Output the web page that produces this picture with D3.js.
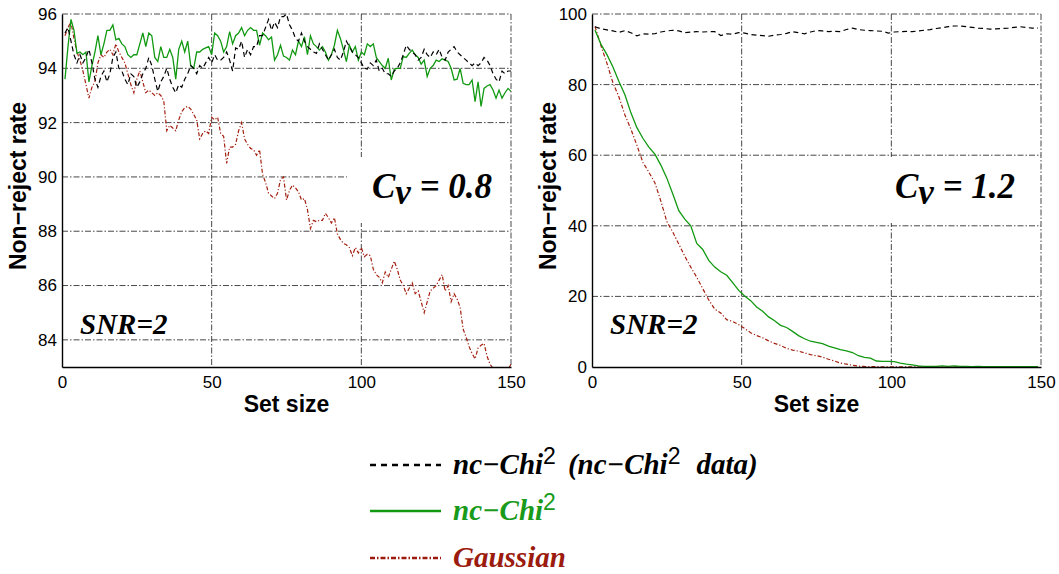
<!DOCTYPE html>
<html><head><meta charset="utf-8">
<script src="https://cdn.jsdelivr.net/npm/d3@7"></script>
<style>
body{margin:0;background:#fff;}
svg{display:block;}
</style></head>
<body>
<svg id="chart" width="1059" height="574"></svg>
<script>
// ---------------- DATA ----------------
// Left panel (Cv = 0.8): set size 1..150
const leftX = d3.range(1, 151);
const leftChiData = [95.3,95.5,95.0,94.5,94.2,94.5,94.2,94.4,94.7,94.2,93.6,93.3,93.7,93.9,93.5,93.8,94.4,94.6,94.0,93.9,
93.6,93.4,93.8,93.7,93.3,93.5,93.8,94.0,94.4,94.1,93.6,93.15,93.5,93.7,94.0,93.6,93.3,93.1,93.4,93.3,
93.6,93.8,94.1,94.0,93.8,94.1,94.0,94.2,94.4,94.2,94.5,94.3,94.3,94.4,94.6,94.3,93.9,94.75,94.7,95.0,
94.4,94.7,94.5,94.8,94.8,95.2,95.2,95.5,95.8,95.4,95.7,95.5,95.9,95.9,96.0,95.6,95.4,95.1,95.0,95.3,
95.0,94.8,94.7,94.6,94.55,94.9,94.7,94.5,94.3,94.5,94.7,94.4,94.3,94.6,95.0,94.8,94.6,94.5,94.4,94.2,
94.0,93.97,94.2,94.1,94.3,93.9,94.0,93.8,93.8,93.7,93.9,94.0,94.2,94.5,94.85,94.7,94.6,94.5,94.3,94.4,
94.7,94.5,94.4,94.6,94.5,94.7,94.4,94.3,94.6,94.7,94.8,94.6,94.5,94.4,94.3,94.2,94.1,94.2,94.1,94.2,
94.4,94.3,94.1,93.8,93.6,93.5,93.9,93.8,93.9,93.9];
const leftChi = [93.6,94.8,95.8,95.4,94.55,94.6,94.5,94.6,93.5,94.1,94.6,95.2,94.5,94.9,95.4,95.4,95.6,95.05,95.1,94.9,
94.8,94.5,94.4,94.5,94.5,94.9,95.3,94.8,95.3,95.2,94.4,94.25,94.8,94.4,94.4,94.7,94.4,93.6,94.7,95.0,
94.6,95.0,94.1,94.0,94.6,94.6,94.7,94.75,94.8,94.5,95.3,95.2,95.0,94.6,94.8,95.35,94.9,95.2,95.3,95.5,
95.2,95.4,95.5,95.4,95.4,94.85,95.3,95.2,95.05,95.15,94.3,94.5,94.85,94.45,94.4,94.3,94.67,94.5,95.0,94.8,
95.16,94.5,95.2,94.9,94.8,94.67,94.8,94.6,94.3,94.5,94.85,95.4,95.1,94.7,94.25,94.85,94.6,94.8,94.3,94.6,
94.5,94.9,94.8,94.9,94.4,94.25,94.1,94.0,94.37,93.57,93.97,94.0,94.0,94.43,94.4,94.55,94.67,94.5,94.4,94.15,
94.3,93.7,94.0,94.1,94.3,94.25,94.35,94.3,94.25,94.0,93.57,93.6,94.0,93.45,93.4,93.4,93.57,92.77,93.5,92.6,
93.26,93.35,93.4,93.2,92.9,93.2,92.9,93.1,93.26,93.15];
const leftGauss = [95.2,95.5,95.7,95.1,94.6,94.3,93.9,93.4,92.9,93.3,93.5,94.2,94.5,94.4,94.6,94.7,94.5,94.9,94.6,94.4,
94.2,93.8,93.4,93.1,93.6,93.9,93.5,93.1,93.2,93.1,93.0,93.1,93.0,92.8,91.7,91.9,91.8,91.7,92.1,92.4,
92.55,92.6,92.5,92.3,92.1,91.4,91.6,91.7,91.6,92.2,92.1,92.2,91.6,91.5,90.5,91.1,91.1,91.2,91.7,92.0,
91.4,91.2,91.05,91.0,90.8,91.0,90.1,89.8,89.4,89.3,89.2,89.4,89.9,90.0,89.15,89.5,89.7,89.6,89.45,89.15,
89.2,88.8,88.1,88.4,88.35,88.4,88.4,88.66,88.5,88.3,88.5,87.9,87.7,87.55,87.5,87.4,87.1,87.4,87.2,87.4,
87.06,87.15,87.1,86.6,86.4,86.3,86.1,86.5,86.3,86.6,86.9,86.6,86.2,86.0,85.7,85.9,86.1,85.7,85.8,85.4,
85.0,85.4,85.8,85.9,86.0,86.2,86.4,85.8,86.0,85.4,85.7,85.5,85.2,84.4,84.1,83.75,83.5,83.3,83.7,83.8,
83.87,83.4,83.1,82.95,82.8,82.9,82.8,82.9,82.9,83.1];

// Right panel (Cv = 1.2): set size 1,3,...,149
const rightX = d3.range(1, 150, 2);
const rightChiData = [96.4,95.8,95.5,95.2,94.8,95.3,94.7,93.8,94.4,94.3,94.4,94.9,95.2,95.4,95.2,94.7,94.9,95.0,94.9,95.0,
95.0,93.9,94.4,94.3,94.7,94.6,94.2,94.0,93.9,93.7,94.0,94.2,94.5,95.0,94.7,94.4,94.9,95.3,95.2,95.0,
95.1,95.0,95.6,96.0,95.6,95.4,95.3,95.2,95.1,94.6,94.9,95.0,95.1,95.0,95.2,95.4,95.6,95.9,96.1,96.4,
96.6,96.6,96.4,96.2,96.0,95.9,95.7,95.8,95.9,96.0,96.2,96.4,96.2,96.0,96.0];
const rightChi = [95.5,91.4,88.5,85.0,80.9,77.1,72.0,67.8,64.8,62.3,60.3,57.2,53.5,49.0,44.3,41.9,40.0,35.0,33.3,30.2,
28.3,27.0,26.0,23.9,21.7,20.1,18.8,17.0,15.8,14.2,13.1,11.8,11.2,10.1,8.9,8.0,7.3,7.0,6.6,5.9,
5.4,4.9,4.6,4.1,3.2,2.7,2.5,1.7,1.6,1.6,1.5,1.1,0.8,0.6,0.3,0.2,0.2,0.2,0.3,0.2,
0.3,0.2,0.2,0.1,0.2,0.1,0.1,0.1,0.1,0.1,0.1,0.1,0.1,0.1,0.1];
const rightGauss = [96.5,91.0,86.0,80.5,76.5,71.4,67.4,62.8,58.0,55.2,52.2,47.0,41.2,38.2,34.8,31.4,28.3,25.4,22.2,19.0,
16.4,15.3,13.4,12.9,12.0,10.9,9.7,8.9,8.3,7.4,6.7,6.1,5.3,4.8,4.5,4.0,3.5,3.2,2.8,2.2,
1.7,1.1,0.8,0.5,0.25,0.15,0.1,0.1,0.05,0.05,0.05,0.05,0.05,0.05,0.05,0.05,0.05,0.05,0.05,0.05,
0.05,0.05,0.05,0.05,0.05,0.05,0.05,0.05,0.05,0.05,0.05,0.05,0.05,0.05,0.05];

const xTicks = [0, 50, 100, 150];
const leftYTicks = [84, 86, 88, 90, 92, 94, 96];
const rightYTicks = [0, 20, 40, 60, 80, 100];
const seriesNames = ["nc\u2212Chi", "nc\u2212Chi", "Gaussian"];
const panelTitles = ["0.8", "1.2"];
const snrLabel = "SNR=2";

// warm up fonts so they are resolved before drawing
const ctx = document.createElement("canvas").getContext("2d");
["bold italic 30px \"Liberation Serif\"", "30px \"Liberation Sans\"", "bold 30px \"Liberation Sans\""].forEach(f => {
  ctx.font = f; ctx.measureText("SNR=2 Gaussian nc Chi data Cv");
});

// ---------------- DRAW ----------------
const svg = d3.select("#chart");
const colors = {chiData: "#000000", chi: "#119911", gauss: "#a3200f"};
const gridDash = "6,2,1.5,2";
const SERIF = 'font-family:"Liberation Serif",monospace;font-weight:bold;font-style:italic';
const SANS = 'font-family:"Liberation Sans",Arial,sans-serif';
const SANS_B = SANS + ";font-weight:bold";
const SUP = 'font-family:"Liberation Sans",Arial,sans-serif;font-style:normal;font-weight:normal';

function panel(cfg) {
  const x = d3.scaleLinear().domain([0, 150]).range([cfg.x0, cfg.x1]);
  const y = d3.scaleLinear().domain(cfg.yDomain).range([cfg.y1, cfg.y0]);
  const g = svg.append("g");

  g.selectAll(".hg").data(cfg.yTicks.filter(t => t > cfg.yDomain[0])).enter().append("line")
    .attr("x1", cfg.x0).attr("x2", cfg.x1).attr("y1", d => y(d)).attr("y2", d => y(d))
    .attr("stroke", "#333").attr("stroke-width", 0.9).attr("stroke-dasharray", gridDash);
  g.selectAll(".vg").data(xTicks.filter(t => t > 0)).enter().append("line")
    .attr("x1", d => x(d)).attr("x2", d => x(d)).attr("y1", cfg.y0).attr("y2", cfg.y1)
    .attr("stroke", "#333").attr("stroke-width", 0.9).attr("stroke-dasharray", gridDash);

  g.append("rect").attr("x", cfg.boxX).attr("y", 157).attr("width", cfg.boxW).attr("height", 66).attr("fill", "#fff");

  const cid = "clip" + cfg.id;
  svg.append("clipPath").attr("id", cid).append("rect")
    .attr("x", cfg.x0).attr("y", cfg.y0 - 1).attr("width", cfg.x1 - cfg.x0).attr("height", cfg.y1 - cfg.y0 + 1);
  const line = d3.line().x((d, i) => x(cfg.xs[i])).y(d => y(d));
  const lg = g.append("g").attr("clip-path", `url(#${cid})`);
  lg.append("path").datum(cfg.gauss).attr("d", line).attr("fill", "none")
    .attr("stroke", colors.gauss).attr("stroke-width", 1.2).attr("stroke-dasharray", "4,2,1.2,2");
  lg.append("path").datum(cfg.chi).attr("d", line).attr("fill", "none")
    .attr("stroke", colors.chi).attr("stroke-width", 1.3);
  lg.append("path").datum(cfg.chiData).attr("d", line).attr("fill", "none")
    .attr("stroke", colors.chiData).attr("stroke-width", 1.2).attr("stroke-dasharray", "5,3.5");

  const ax = g.append("g").attr("transform", `translate(0,${cfg.y1})`)
    .call(d3.axisBottom(x).tickValues(xTicks).tickSize(0).tickPadding(9));
  const ay = g.append("g").attr("transform", `translate(${cfg.x0},0)`)
    .call(d3.axisLeft(y).tickValues(cfg.yTicks).tickSize(0).tickPadding(5));
  [ax, ay].forEach(a => {
    a.attr("font-family", null).attr("font-size", null);
    a.select(".domain").attr("stroke", "#000").attr("stroke-width", 1.4);
    a.selectAll("text").attr("style", SANS + ";font-size:17px").attr("fill", "#000");
  });

  g.append("text").attr("style", SANS_B + ";font-size:23px").attr("x", (cfg.x0 + cfg.x1) / 2).attr("y", 412)
    .attr("text-anchor", "middle").text("Set size");
  g.append("text").attr("style", SANS_B + ";font-size:23px")
    .attr("transform", `translate(${cfg.x0 - 36},186) rotate(-90)`).attr("text-anchor", "middle")
    .text("Non\u2212reject rate");

  g.append("text").attr("style", SERIF + ";font-size:29px").attr("x", cfg.snrX).attr("y", 334).text(snrLabel);
  const cv = g.append("text").attr("style", SERIF + ";font-size:35px").attr("x", cfg.cvX).attr("y", 198);
  cv.append("tspan").text("C");
  cv.append("tspan").attr("dy", 6).text("v");
  cv.append("tspan").attr("dy", -6).text(" = " + cfg.title);
}

panel({id: "L", x0: 62, x1: 511, y0: 14, y1: 367, yDomain: [83, 96], yTicks: leftYTicks,
  xs: leftX, chiData: leftChiData, chi: leftChi, gauss: leftGauss,
  boxX: 347, boxW: 162, snrX: 80, cvX: 372, title: panelTitles[0]});
panel({id: "R", x0: 592, x1: 1041, y0: 14, y1: 367, yDomain: [0, 100], yTicks: rightYTicks,
  xs: rightX, chiData: rightChiData, chi: rightChi, gauss: rightGauss,
  boxX: 870, boxW: 163, snrX: 610, cvX: 895, title: panelTitles[1]});

// ---------------- LEGEND ----------------
const legendRows = [
  {y: 465, color: "#000", dash: "6,5", tcolor: "#000", name: seriesNames[0], extra: true},
  {y: 511, color: "#119911", dash: null, tcolor: "#1a9a1a", name: seriesNames[1], extra: false},
  {y: 558, color: "#9b1b0e", dash: "5,2,1.5,2", tcolor: "#9b1b0e", name: seriesNames[2], extra: false}
];
const leg = svg.append("g");
legendRows.forEach(r => {
  leg.append("line").attr("x1", 370).attr("x2", 441).attr("y1", r.y).attr("y2", r.y)
    .attr("stroke", r.color).attr("stroke-width", 2.6).attr("stroke-dasharray", r.dash);
  const t = leg.append("text").attr("style", SERIF + ";font-size:29px").attr("x", 453).attr("y", r.y + 9)
    .attr("fill", r.tcolor);
  t.append("tspan").text(r.name);
  if (r.name !== "Gaussian") {
    t.append("tspan").attr("dy", -10).attr("style", SUP + ";font-size:23px").text("2");
    if (r.extra) {
      t.append("tspan").attr("dy", 10).attr("dx", 12).text("(" + r.name);
      t.append("tspan").attr("dy", -10).attr("style", SUP + ";font-size:23px").text("2");
      t.append("tspan").attr("dy", 10).attr("dx", 16).text("data)");
    }
  }
});
</script>
</body></html>
